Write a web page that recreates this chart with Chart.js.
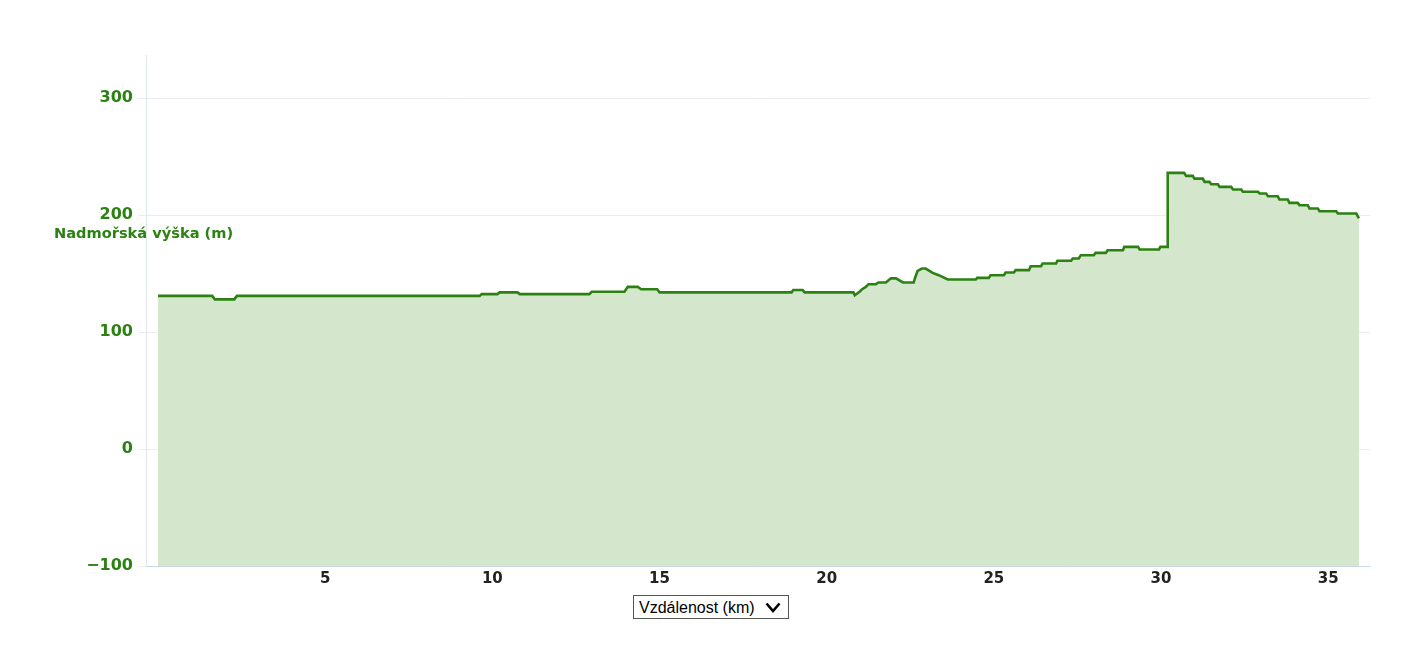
<!DOCTYPE html>
<html lang="cs">
<head>
<meta charset="utf-8">
<title>Výškový profil</title>
<script src="https://cdn.jsdelivr.net/npm/chart.js@4/dist/chart.umd.min.js"></script>
<style>
    html, body { margin: 0; padding: 0; background: #fff; }
    .wrap { position: relative; width: 1423px; height: 655px; overflow: hidden; }
    #profile { position: absolute; left: 0; top: 0; }
    .axis-switch {
        position: absolute; left: 633px; top: 595px; width: 156px; height: 24px;
        box-sizing: border-box; border: 1px solid #555; border-radius: 0;
        font: 16px "Liberation Sans", Arial, sans-serif; color: #000;
        padding: 0 0 0 5px; background-color: #fff;
        -webkit-appearance: none; appearance: none;
        background-image: url("data:image/svg+xml;utf8,<svg xmlns='http://www.w3.org/2000/svg' width='16' height='11'><path d='M1.5 1.5 L8 9 L14.5 1.5' fill='none' stroke='%23000' stroke-width='2.6'/></svg>");
        background-repeat: no-repeat; background-position: 131px 6px;
    }
</style>
</head>
<body>
<div class="wrap">
    <canvas id="profile" width="1423" height="655"></canvas>
    <select class="axis-switch" aria-label="Osa X">
        <option>Vzdálenost (km)</option>
        <option>Čas</option>
    </select>
</div>
<script>
// vzdálenost od startu (km) a nadmořská výška (m), odečteno z profilu
const distanceKm = [
    0, 1.62, 1.7, 2.28, 2.36, 9.62, 9.68, 10.15, 10.22, 10.75,
    10.82, 12.9, 12.97, 13.95, 14.05, 14.35, 14.45, 14.93, 15.0, 18.95,
    19.0, 19.28, 19.34, 20.8, 20.84, 21.0, 21.05, 21.17, 21.25, 21.47,
    21.55, 21.77, 21.92, 22.07, 22.28, 22.6, 22.65, 22.72, 22.85, 22.96,
    23.17, 23.35, 23.62, 24.46, 24.5, 24.85, 24.9, 25.3, 25.35, 25.6,
    25.65, 26.05, 26.1, 26.41, 26.46, 26.86, 26.9, 27.31, 27.36, 27.54,
    27.6, 27.99, 28.04, 28.35, 28.4, 28.86, 28.9, 29.31, 29.36, 29.94,
    29.98, 30.18, 30.2, 30.69, 30.75, 30.95, 31.0, 31.25, 31.3, 31.45,
    31.5, 31.7, 31.75, 32.1, 32.15, 32.4, 32.45, 32.9, 32.95, 33.14,
    33.2, 33.49, 33.54, 33.79, 33.84, 34.09, 34.14, 34.39, 34.44, 34.69,
    34.74, 35.24, 35.29, 35.84, 35.92
];
const elevationM = [
    131, 131, 128, 128, 131, 131, 132.5, 132.5, 134, 134,
    132.5, 132.5, 134.5, 134.5, 138.7, 138.7, 136.7, 136.7, 134, 134,
    136, 136, 134, 134, 131.6, 135, 136.5, 138.7, 141, 141,
    142.5, 142.5, 146, 146, 142.5, 142.5, 147, 152.4, 154.4, 154.4,
    150.7, 148.7, 145, 145, 146.4, 146.4, 148.7, 148.7, 151, 151,
    153, 153, 156.4, 156.4, 158.7, 158.7, 161, 161, 163, 163,
    165.8, 165.8, 167.8, 167.8, 170, 170, 172.9, 172.9, 170.7, 170.7,
    172.9, 172.9, 236.2, 236.2, 233.6, 233.6, 231.3, 231.3, 228.5, 228.5,
    226.5, 226.5, 224.2, 224.2, 222, 222, 220, 220, 218.5, 218.5,
    216.2, 216.2, 213.4, 213.4, 210.5, 210.5, 208.5, 208.5, 205.7, 205.7,
    203.4, 203.4, 201.4, 201.4, 197.2
];
const elevationTicks = [-100, 0, 100, 200, 300];
const distanceTicks = [5, 10, 15, 20, 25, 30, 35];

const GREEN = '#2b8212';
const FONT = '"DejaVu Sans", Verdana, sans-serif';

// popisek osy Y je vodorovně přes osu, jako v originále
const yTitle = {
    id: 'yTitle',
    afterDraw(chart) {
        const ctx = chart.ctx;
        ctx.save();
        ctx.font = 'bold 14.6px ' + FONT;
        ctx.fillStyle = GREEN;
        ctx.textAlign = 'left';
        ctx.textBaseline = 'middle';
        ctx.fillText('Nadmořská výška (m)', 54, 234);
        ctx.restore();
    }
};

new Chart(document.getElementById('profile'), {
    type: 'line',
    data: {
        datasets: [{
            label: 'Nadmořská výška',
            data: distanceKm.map((km, i) => ({ x: km, y: elevationM[i] })),
            borderColor: GREEN,
            borderWidth: 2.6,
            backgroundColor: '#d4e6cc',
            fill: 'start',
            pointRadius: 0,
            tension: 0
        }]
    },
    options: {
        responsive: false,
        animation: false,
        devicePixelRatio: 1,
        layout: { padding: { left: 0, top: 55, right: 53, bottom: 0 } },
        plugins: { legend: { display: false }, tooltip: { enabled: false } },
        scales: {
            x: {
                type: 'linear',
                min: -0.36,
                max: 36.25,
                afterFit: scale => { scale.height = 89; },
                afterBuildTicks: scale => { scale.ticks = distanceTicks.map(v => ({ value: v })); },
                border: { color: '#ccd6eb', width: 1 },
                grid: { display: false, drawTicks: false },
                ticks: {
                    padding: 4,
                    color: '#222',
                    font: { family: FONT, size: 15, weight: 'bold' }
                }
            },
            y: {
                min: -100,
                max: 337,
                afterFit: scale => { scale.width = 146; },
                afterBuildTicks: scale => { scale.ticks = elevationTicks.map(v => ({ value: v })); },
                border: { color: '#dde4ec', width: 1 },
                grid: { color: '#e9edf1', lineWidth: 1, tickLength: 8, drawTicks: true },
                ticks: {
                    padding: 5,
                    color: GREEN,
                    font: { family: FONT, size: 16, weight: 'bold' },
                    callback: v => v < 0 ? '\u2212' + Math.abs(v) : String(v)
                }
            }
        }
    },
    plugins: [yTitle]
});
</script>
</body>
</html>
